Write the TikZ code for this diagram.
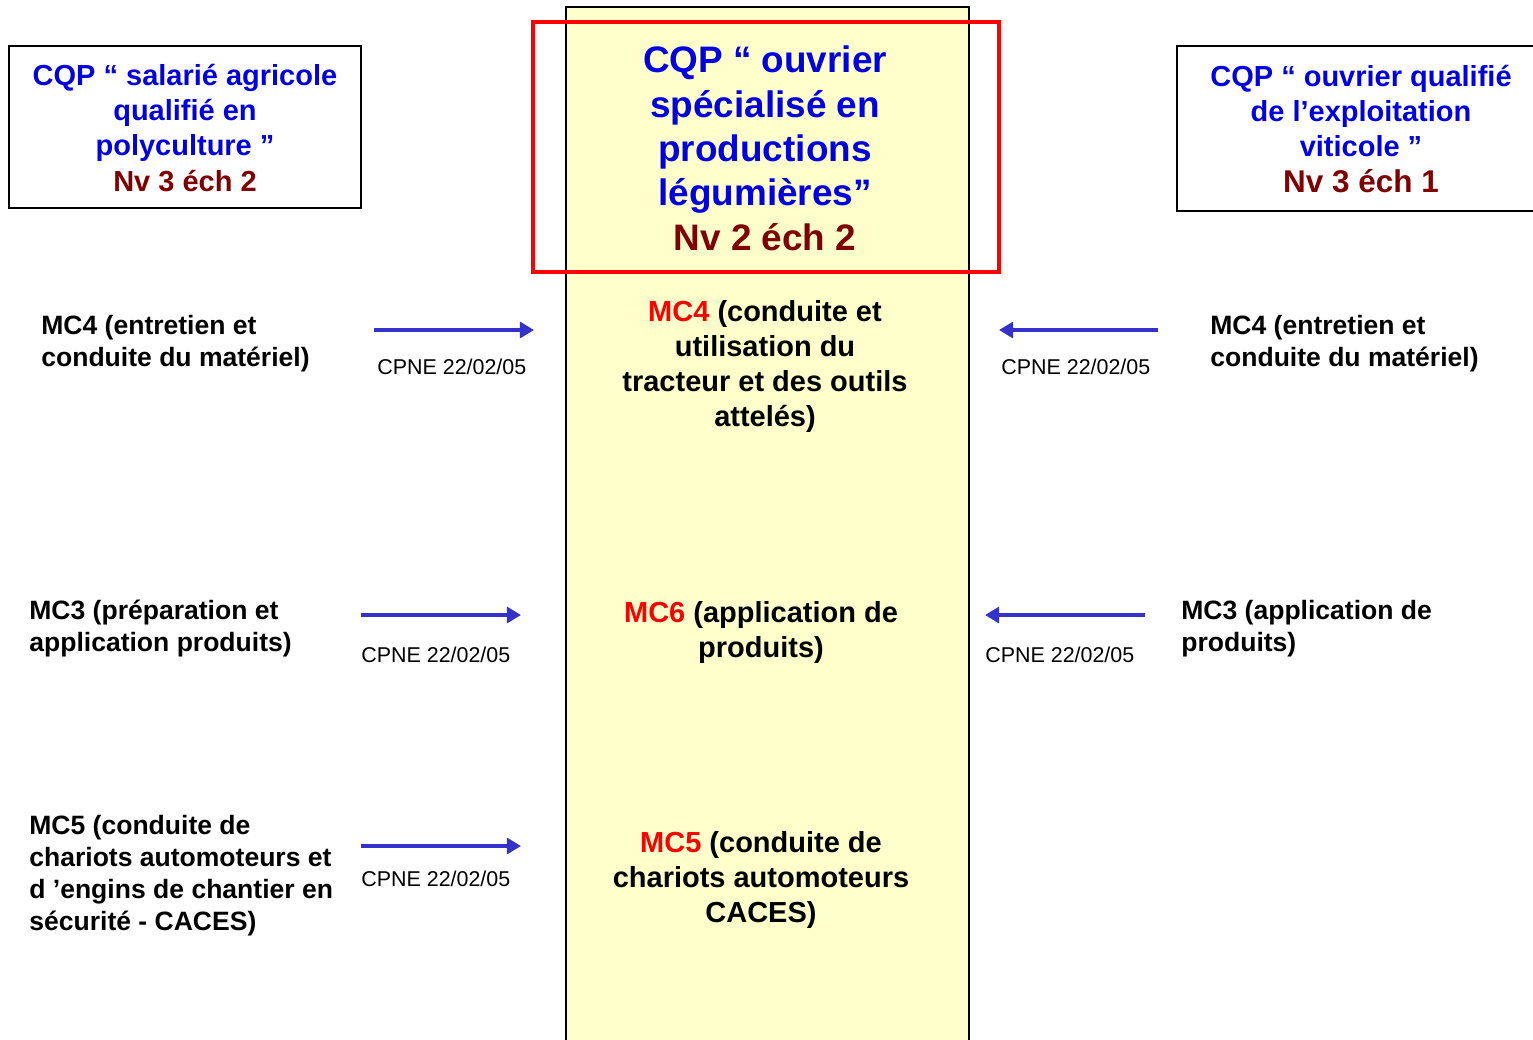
\documentclass[tikz,border=0pt]{standalone}
\usepackage{fontspec}
\setmainfont{Liberation Sans}
\usetikzlibrary{arrows.meta}
\definecolor{tblue}{RGB}{0,0,230}
\definecolor{tdred}{RGB}{128,0,0}
\definecolor{tred}{RGB}{255,0,0}
\definecolor{colfill}{RGB}{255,255,204}
\definecolor{arrblue}{RGB}{51,51,204}
\tikzset{
  boxtxt/.style={anchor=base, align=center, inner sep=0pt, font=\fontsize{16.5}{20}\selectfont\bfseries},
  titletxt/.style={anchor=base, align=center, inner sep=0pt, font=\fontsize{21}{25.2}\selectfont\bfseries},
  midtxt/.style={anchor=base, align=center, inner sep=0pt, font=\fontsize{16.5}{19.8}\selectfont\bfseries},
  sidetxt/.style={anchor=base west, align=left, inner sep=0pt, font=\fontsize{15.1}{18.1}\selectfont\bfseries},
  cpne/.style={anchor=base west, inner sep=0pt, font=\fontsize{12.2}{14.6}\selectfont},
  barrow/.style={draw=arrblue, line width=2.8pt, -{Triangle[length=8pt,width=9pt]}},
}
\begin{document}
\begin{tikzpicture}[x=0.02cm, y=-0.02cm]
\useasboundingbox (0,0) rectangle (1533,1039);
% central column
\fill[colfill] (566,7) rectangle (969,1045);
\draw[line width=1.4pt] (566,1045) -- (566,7) -- (969,7) -- (969,1045);
% red frame
\draw[tred, line width=2.4pt] (533,22) rectangle (999,272);
% left box
\draw[line width=1.1pt] (9,46) rectangle (361,208);
% right box
\draw[line width=1.1pt] (1545,46) -- (1177,46) -- (1177,211) -- (1545,211);

% box texts (base anchor = last line baseline)
\node[boxtxt, text=tblue] (lbox) at (185,191) {CQP “ salarié agricole\\qualifié en\\polyculture ”\\\textcolor{tdred}{Nv 3 éch 2}};
\node[boxtxt, text=tblue] (rbox) at (1361,192) {CQP “ ouvrier qualifié\\de l’exploitation\\viticole ”\\\textcolor{tdred}{\fontsize{17.9}{20}\selectfont Nv 3 éch 1}};
\node[titletxt, text=tblue] (title) at (765,250) {CQP “ ouvrier\\spécialisé en\\productions\\légumières”\\\textcolor{tdred}{Nv 2 éch 2}};

% middle column texts
\node[midtxt] (mmc4) at (765,426) {\textcolor{tred}{MC4} (conduite et\\utilisation du\\tracteur et des outils\\attelés)};
\node[midtxt] (mmc6) at (761,657) {\textcolor{tred}{MC6} (application de\\produits)};
\node[midtxt] (mmc5) at (761,922) {\textcolor{tred}{MC5} (conduite de\\chariots automoteurs\\CACES)};

% side texts
\node[sidetxt] (lmc4) at (41,366) {MC4 (entretien et\\conduite du matériel)};
\node[sidetxt] (lmc3) at (29,651) {MC3 (préparation et\\application produits)};
\node[sidetxt] (lmc5) at (29,930) {MC5 (conduite de\\chariots automoteurs et\\d ’engins de chantier en\\sécurité - CACES)};
\node[sidetxt] (rmc4) at (1210,366) {MC4 (entretien et\\conduite du matériel)};
\node[sidetxt] (rmc3) at (1181,651) {MC3 (application de\\produits)};

% CPNE labels
\node[cpne] (c1) at (377,374) {CPNE 22/02/05};
\node[cpne] (c2) at (361,662) {CPNE 22/02/05};
\node[cpne] (c3) at (361,886) {CPNE 22/02/05};
\node[cpne] (c4) at (1001,374) {CPNE 22/02/05};
\node[cpne] (c5) at (985,662) {CPNE 22/02/05};

% arrow ends
\coordinate (a1s) at (374,330); \coordinate (a1e) at (534,330);
\coordinate (a2s) at (361,615); \coordinate (a2e) at (521,615);
\coordinate (a3s) at (361,846); \coordinate (a3e) at (521,846);
\coordinate (a4s) at (1158,330); \coordinate (a4e) at (999,330);
\coordinate (a5s) at (1145,615); \coordinate (a5e) at (985,615);
\draw[barrow] (a1s) -- (a1e);
\draw[barrow] (a2s) -- (a2e);
\draw[barrow] (a3s) -- (a3e);
\draw[barrow] (a4s) -- (a4e);
\draw[barrow] (a5s) -- (a5e);
\end{tikzpicture}
\end{document}
